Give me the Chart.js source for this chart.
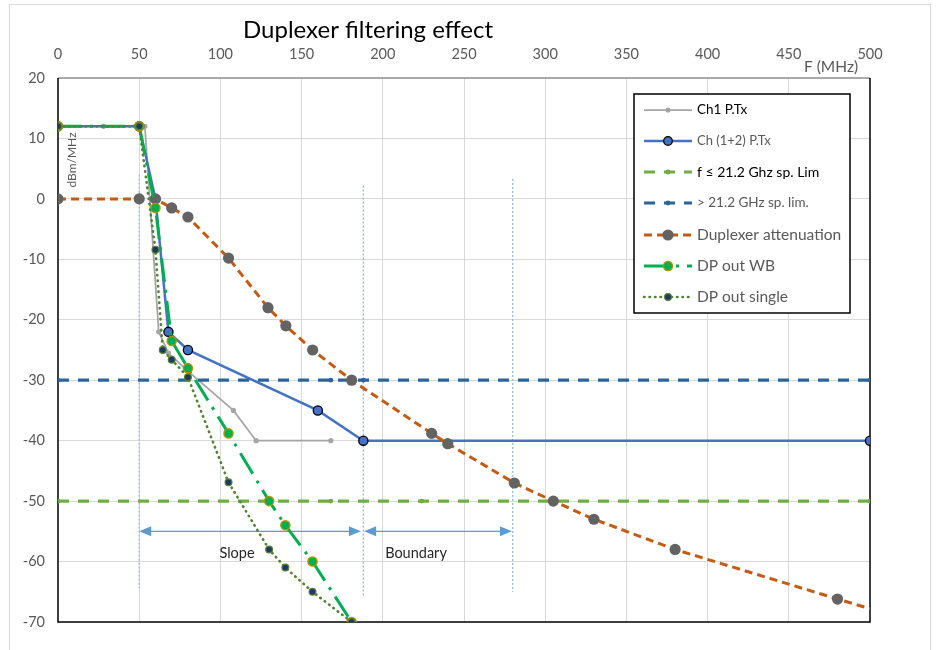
<!DOCTYPE html>
<html>
<head>
<meta charset="utf-8">
<script src="https://cdn.jsdelivr.net/npm/chart.js@4/dist/chart.umd.min.js"></script>
<style>
  html, body { margin: 0; padding: 0; background: #fff; }
  #wrap { width: 939px; height: 650px; position: relative; }
</style>
</head>
<body>
<div id="wrap"><canvas id="c" width="939" height="650"></canvas></div>
<script>
// Frequency (MHz) / level (dBm/MHz) pairs for each trace
const ch1X = [0, 28, 53.5, 62, 68, 80, 108, 122, 168];
const ch1Y = [12, 12, 12, -22, -25.5, -28.5, -35, -40, -40];

const ch12X = [0, 50, 60, 68, 80, 160, 188, 500];
const ch12Y = [12, 12, 0, -22, -25, -35, -40, -40];

const limLowX = [0, 168, 224, 500];
const limLowY = [-50, -50, -50, -50];

const limHighX = [0, 168, 188, 500];
const limHighY = [-30, -30, -30, -30];

const duplexX = [0, 50, 60, 70, 80, 105, 129.3, 140.3, 156.8, 180.8, 230.1, 240, 281, 305, 330, 380, 480, 500];
const duplexY = [0, 0, 0, -1.5, -3, -9.8, -18, -21, -25, -30, -38.8, -40.5, -47, -50, -53, -58, -66.2, -67.8];

const wbX = [0, 50, 60, 70, 80, 105, 130, 140, 156.7, 180.8];
const wbY = [12, 12, -1.5, -23.5, -28, -38.8, -50, -54, -60, -70];

const singleX = [0, 50, 60, 64.5, 70, 80, 105, 130, 140, 156.7, 180.8];
const singleY = [12, 12, -8.4, -25, -26.6, -29.5, -46.9, -58, -61, -65, -70];

// Region markers (vertical dotted guides) and the span arrows
const guideX = [50, 188, 280];
const guideTop = [4, 2.2, 3.3];
const guideBottom = [-64.4, -66, -65];
const slopeSpan = [50, 186.5];
const boundarySpan = [188.5, 279.5];
const spanLevel = -55;

const xTicks = { min: 0, max: 500, step: 50 };
const yTicks = { min: -70, max: 20, step: 10 };

const pts = (xs, ys) => xs.map((x, i) => ({ x: x, y: ys[i] }));

const FONT = 'Lato, "Open Sans", "Liberation Sans", sans-serif';

const series = [
  {
    label: 'Ch1 P.Tx', data: pts(ch1X, ch1Y), order: 7,
    borderColor: '#A5A5A5', borderWidth: 1.75,
    pointRadius: 2.6, pointBackgroundColor: '#A5A5A5', pointBorderColor: '#A5A5A5', pointBorderWidth: 0,
    legendFont: 13.5, legendColor: '#000000', legendRadius: 2.6
  },
  {
    label: 'Ch (1+2) P.Tx', data: pts(ch12X, ch12Y), order: 6,
    borderColor: '#4472C4', borderWidth: 2.5,
    pointRadius: 4.6, pointBackgroundColor: '#4472C4', pointBorderColor: '#000000', pointBorderWidth: 1.3,
    legendFont: 13, legendColor: '#595959', legendRadius: 4.3
  },
  {
    label: 'f \u2264 21.2 Ghz sp. Lim', data: pts(limLowX, limLowY), order: 5,
    borderColor: '#70AD47', borderWidth: 3.2, borderDash: [11, 9],
    pointRadius: 2.4, pointBackgroundColor: '#70AD47', pointBorderColor: '#70AD47', pointBorderWidth: 0,
    legendFont: 14, legendColor: '#000000', legendRadius: 2.4
  },
  {
    label: '> 21.2 GHz sp. lim.', data: pts(limHighX, limHighY), order: 4,
    borderColor: '#2C6499', borderWidth: 3.2, borderDash: [11, 9],
    pointRadius: 2.4, pointBackgroundColor: '#2C6499', pointBorderColor: '#2C6499', pointBorderWidth: 0,
    legendFont: 13.5, legendColor: '#595959', legendRadius: 2.4
  },
  {
    label: 'Duplexer attenuation', data: pts(duplexX, duplexY), order: 3,
    borderColor: '#C55A11', borderWidth: 3, borderDash: [8, 5],
    pointRadius: (c) => (c.dataIndex === duplexX.length - 1 ? 0 : 5.6),
    pointBackgroundColor: '#636363', pointBorderColor: '#636363', pointBorderWidth: 0,
    legendFont: 15.5, legendColor: '#595959', legendRadius: 5.6
  },
  {
    label: 'DP out WB', data: pts(wbX, wbY), order: 2,
    borderColor: '#00B050', borderWidth: 3, borderDash: [24, 8, 3, 8],
    pointRadius: 4.6, pointBackgroundColor: '#00B050', pointBorderColor: '#BF8F00', pointBorderWidth: 1.4,
    legendFont: 15.5, legendColor: '#595959', legendRadius: 4.6
  },
  {
    label: 'DP out single', data: pts(singleX, singleY), order: 1,
    borderColor: '#548235', borderWidth: 2.6, borderDash: [0.5, 5], borderCapStyle: 'round',
    pointRadius: 3.4, pointBackgroundColor: '#203864', pointBorderColor: '#548235', pointBorderWidth: 1.2,
    legendFont: 15.5, legendColor: '#595959', legendRadius: 3.4
  }
];

const guides = guideX.map((gx, i) => ({
  label: '', isGuide: true, order: 100,
  data: [{ x: gx, y: guideTop[i] }, { x: gx, y: guideBottom[i] }],
  borderColor: '#8DBCE6', borderWidth: 1.3, borderDash: [2, 2], pointRadius: 0
}));

const datasets = series.map(s => Object.assign({ tension: 0, fill: false, showLine: true }, s))
  .concat(guides.map(g => Object.assign({ tension: 0, fill: false, showLine: true }, g)));

function arrowHead(ctx, tipX, y, dir) {
  const len = 12, half = 5;
  ctx.beginPath();
  ctx.moveTo(tipX, y);
  ctx.lineTo(tipX - dir * len, y - half);
  ctx.lineTo(tipX - dir * len, y + half);
  ctx.closePath();
  ctx.fill();
}

function drawSpan(ctx, xs, ys, span, label) {
  const x0 = xs.getPixelForValue(span[0]);
  const x1 = xs.getPixelForValue(span[1]);
  const y = ys.getPixelForValue(spanLevel);
  ctx.strokeStyle = '#5B9BD5';
  ctx.fillStyle = '#5B9BD5';
  ctx.lineWidth = 1.3;
  ctx.setLineDash([]);
  ctx.beginPath();
  ctx.moveTo(x0 + 8, y);
  ctx.lineTo(x1 - 8, y);
  ctx.stroke();
  arrowHead(ctx, x0, y, -1);
  arrowHead(ctx, x1, y, 1);
  ctx.fillStyle = '#262626';
  ctx.font = '14.5px ' + FONT;
  ctx.textAlign = 'center';
  ctx.textBaseline = 'middle';
  ctx.fillText(label, label === 'Slope' ? 237 : 416, y + 22);
}

const decor = {
  id: 'decor',
  beforeDraw(chart) {
    const ctx = chart.ctx;
    ctx.save();
    ctx.fillStyle = '#ffffff';
    ctx.fillRect(0, 0, chart.width, chart.height);
    ctx.strokeStyle = '#D9D9D9';
    ctx.lineWidth = 1;
    ctx.strokeRect(9.5, 4.5, 921, 700);
    ctx.restore();
  },
  beforeDatasetsDraw(chart) {
    const ctx = chart.ctx;
    const a = chart.chartArea;
    const xs = chart.scales.x, ys = chart.scales.y;
    ctx.save();
    // plot frame
    ctx.lineWidth = 1.5;
    ctx.strokeStyle = '#8C8C8C';
    ctx.beginPath(); ctx.moveTo(a.left, a.top); ctx.lineTo(a.right, a.top); ctx.stroke();
    ctx.strokeStyle = '#000000';
    ctx.beginPath();
    ctx.moveTo(a.left, a.top); ctx.lineTo(a.left, a.bottom); ctx.lineTo(a.right, a.bottom); ctx.lineTo(a.right, a.top);
    ctx.stroke();
    drawSpan(ctx, xs, ys, slopeSpan, 'Slope');
    drawSpan(ctx, xs, ys, boundarySpan, 'Boundary');
    ctx.restore();
  },
  afterDraw(chart) {
    const ctx = chart.ctx;
    ctx.save();
    // title
    ctx.fillStyle = '#000000';
    ctx.font = '24px ' + FONT;
    ctx.textAlign = 'center';
    ctx.textBaseline = 'alphabetic';
    ctx.fillText('Duplexer filtering effect', 368, 38);
    // axis captions
    ctx.fillStyle = '#595959';
    ctx.font = '15.5px ' + FONT;
    ctx.textBaseline = 'middle';
    ctx.fillText('F (MHz)', 831, 67);
    ctx.save();
    ctx.translate(72, 160);
    ctx.rotate(-Math.PI / 2);
    ctx.font = '12px ' + FONT;
    ctx.fillText('dBm/MHz', 0, 0);
    ctx.restore();

    // legend box
    const bx = 634, by = 94, bw = 216, bh = 219;
    ctx.fillStyle = '#ffffff';
    ctx.fillRect(bx, by, bw, bh);
    ctx.strokeStyle = '#000000';
    ctx.lineWidth = 1.5;
    ctx.strokeRect(bx, by, bw, bh);
    const rowY = [110, 141, 172, 203, 235, 266, 297];
    series.forEach((s, i) => {
      const y = rowY[i];
      const x0 = 644, x1 = 692;
      ctx.save();
      ctx.strokeStyle = s.borderColor;
      ctx.lineWidth = s.borderWidth;
      ctx.lineCap = s.borderCapStyle || 'butt';
      ctx.setLineDash(s.borderDash || []);
      ctx.beginPath(); ctx.moveTo(x0, y); ctx.lineTo(x1, y); ctx.stroke();
      ctx.setLineDash([]);
      ctx.beginPath();
      ctx.arc((x0 + x1) / 2, y, s.legendRadius, 0, Math.PI * 2);
      ctx.fillStyle = s.pointBackgroundColor;
      ctx.fill();
      if (s.pointBorderWidth) {
        ctx.lineWidth = s.pointBorderWidth;
        ctx.strokeStyle = s.pointBorderColor;
        ctx.stroke();
      }
      ctx.restore();
      ctx.fillStyle = s.legendColor;
      ctx.font = s.legendFont + 'px ' + FONT;
      ctx.textAlign = 'left';
      ctx.textBaseline = 'middle';
      ctx.fillText(s.label, 697, y);
    });
    ctx.restore();
  }
};

const edgeless = (lo, hi) => (c) => (c.tick && (c.tick.value === lo || c.tick.value === hi)) ? 'rgba(0,0,0,0)' : '#D9D9D9';

new Chart(document.getElementById('c'), {
  type: 'scatter',
  data: { datasets: datasets },
  plugins: [decor],
  options: {
    responsive: false,
    animation: false,
    devicePixelRatio: 1,
    layout: { padding: { left: 0, right: 69, top: 0, bottom: 28 } },
    plugins: { legend: { display: false }, tooltip: { enabled: false }, title: { display: false } },
    scales: {
      x: {
        type: 'linear', position: 'top', min: xTicks.min, max: xTicks.max,
        ticks: { stepSize: xTicks.step, color: '#595959', font: { family: FONT, size: 14.5 }, padding: 15, maxRotation: 0, autoSkip: false },
        grid: { color: edgeless(xTicks.min, xTicks.max), lineWidth: 1, drawTicks: false },
        border: { display: false },
        afterFit: (s) => { s.height = 78; }
      },
      y: {
        type: 'linear', position: 'left', min: yTicks.min, max: yTicks.max,
        ticks: { stepSize: yTicks.step, color: '#595959', font: { family: FONT, size: 14.5 }, padding: 13 },
        grid: { color: edgeless(yTicks.min, yTicks.max), lineWidth: 1, drawTicks: false },
        border: { display: false },
        afterFit: (s) => { s.width = 58; }
      }
    }
  }
});
</script>
</body>
</html>
